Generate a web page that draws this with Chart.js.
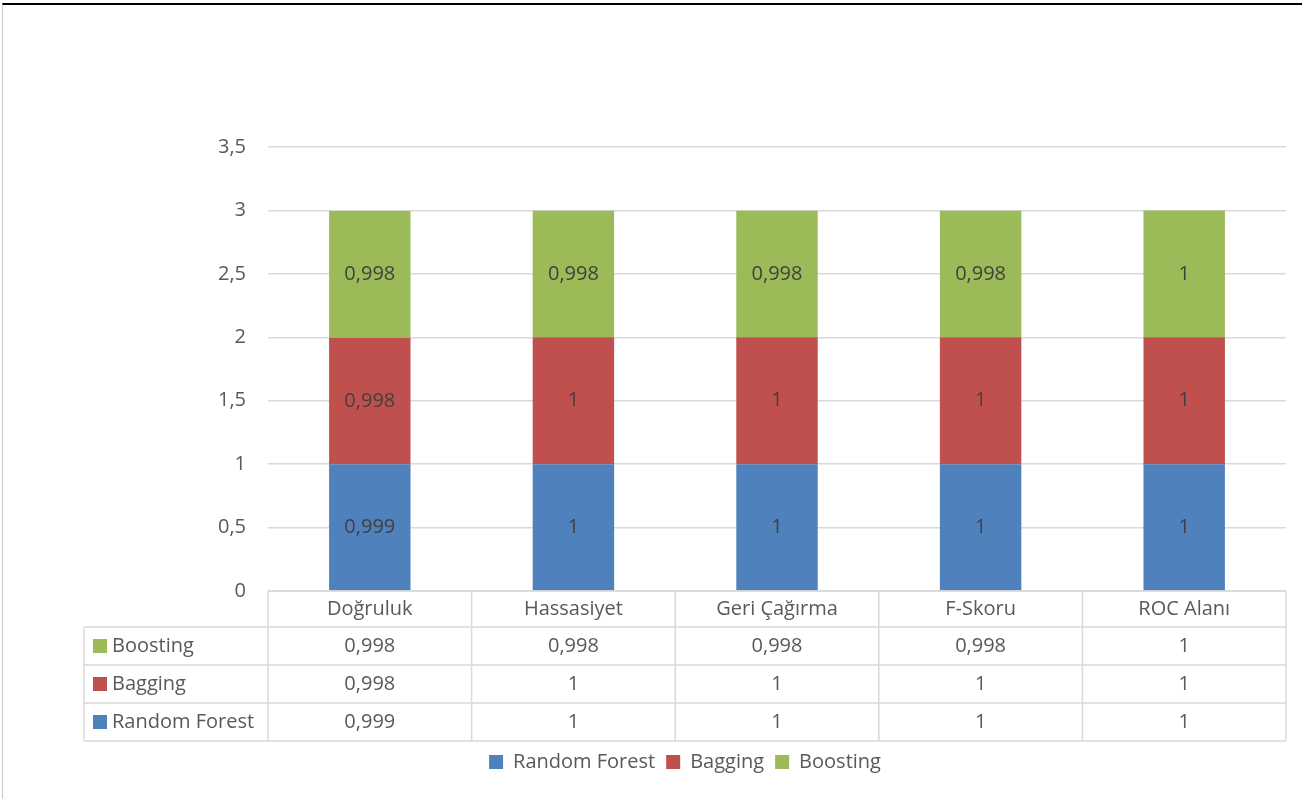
<!DOCTYPE html>
<html>
<head>
<meta charset="utf-8">
<script src="https://cdn.jsdelivr.net/npm/chart.js@4/dist/chart.umd.min.js"></script>
<style>
    body { margin: 0; background: #fff; }
    #wrap { position: relative; width: 1302px; height: 799px; }
    #frame { position: absolute; left: 2px; top: 3px; right: 0; bottom: 0;
             border-top: 2px solid #000; border-left: 1px solid #c8c8c8; pointer-events: none; }
</style>
</head>
<body>
<div id="wrap">
    <canvas id="chart" width="1302" height="799"></canvas>
    <div id="frame"></div>
</div>
<script>
const CATEGORIES = ['Doğruluk', 'Hassasiyet', 'Geri Çağırma', 'F-Skoru', 'ROC Alanı'];
const RANDOM_FOREST = [0.999, 1, 1, 1, 1];
const BAGGING = [0.998, 1, 1, 1, 1];
const BOOSTING = [0.998, 0.998, 0.998, 0.998, 1];
const Y_MAX = 3.5;
const Y_STEP = 0.5;

const FONT = '"Open Sans", Lato, sans-serif';
const FONT_SIZE = 20;
const TEXT = '#595959';
const GRID = '#d9d9d9';

const fmt = (v) => String(v).replace('.', ',');

// value labels inside the bars
const barLabels = {
    id: 'barLabels',
    afterDatasetsDraw(chart) {
        const ctx = chart.ctx;
        ctx.save();
        ctx.font = FONT_SIZE + 'px ' + FONT;
        ctx.fillStyle = '#404040';
        ctx.textAlign = 'center';
        ctx.textBaseline = 'middle';
        chart.data.datasets.forEach((ds, i) => {
            chart.getDatasetMeta(i).data.forEach((bar, j) => {
                const p = bar.getProps(['x', 'y', 'base'], true);
                ctx.fillText(fmt(ds.data[j]), p.x, (p.y + p.base) / 2);
            });
        });
        ctx.restore();
    }
};

// data table under the plot, aligned to the x scale
const dataTable = {
    id: 'dataTable',
    afterDraw(chart) {
        const ctx = chart.ctx;
        const xs = chart.scales.x;
        const area = chart.chartArea;
        const top = area.bottom;
        const rowH = [36, 38, 38, 38];
        const tableLeft = 84;
        const n = CATEGORIES.length;
        const step = (area.right - area.left) / n;
        const cols = [];
        for (let i = 0; i <= n; i++) cols.push(area.left + i * step);

        const rows = [top];
        rowH.forEach((h) => rows.push(rows[rows.length - 1] + h));

        ctx.save();
        ctx.strokeStyle = GRID;
        ctx.lineWidth = 1.5;
        ctx.beginPath();
        ctx.moveTo(area.left, rows[0]); ctx.lineTo(area.right, rows[0]);
        for (let r = 1; r < rows.length; r++) {
            ctx.moveTo(tableLeft, rows[r]); ctx.lineTo(area.right, rows[r]);
        }
        cols.forEach((x) => { ctx.moveTo(x, rows[0]); ctx.lineTo(x, rows[rows.length - 1]); });
        ctx.moveTo(tableLeft, rows[1]); ctx.lineTo(tableLeft, rows[rows.length - 1]);
        ctx.stroke();

        ctx.font = FONT_SIZE + 'px ' + FONT;
        ctx.fillStyle = TEXT;
        ctx.textAlign = 'center';
        ctx.textBaseline = 'middle';
        CATEGORIES.forEach((c, i) => {
            ctx.fillText(c, xs.getPixelForValue(i), (rows[0] + rows[1]) / 2);
        });

        const order = [...chart.data.datasets].reverse();
        order.forEach((ds, r) => {
            const cy = (rows[r + 1] + rows[r + 2]) / 2;
            ctx.fillStyle = ds.backgroundColor;
            ctx.fillRect(tableLeft + 9, cy - 7, 14, 14);
            ctx.fillStyle = TEXT;
            ctx.textAlign = 'left';
            ctx.fillText(ds.label, tableLeft + 28, cy);
            ctx.textAlign = 'center';
            ds.data.forEach((v, j) => ctx.fillText(fmt(v), xs.getPixelForValue(j), cy));
        });
        ctx.restore();
    }
};

new Chart(document.getElementById('chart'), {
    type: 'bar',
    data: {
        labels: CATEGORIES,
        datasets: [
            { label: 'Random Forest', data: RANDOM_FOREST, backgroundColor: '#4f81bd' },
            { label: 'Bagging', data: BAGGING, backgroundColor: '#c0504d' },
            { label: 'Boosting', data: BOOSTING, backgroundColor: '#9bbb59' }
        ]
    },
    options: {
        responsive: false,
        animation: false,
        layout: { padding: { left: 84, right: 16, top: 147, bottom: 17 } },
        datasets: { bar: { categoryPercentage: 1, barPercentage: 0.4 } },
        scales: {
            x: {
                stacked: true,
                grid: { display: false },
                border: { display: false },
                ticks: { display: false },
                afterFit: (s) => { s.height = 150; }
            },
            y: {
                stacked: true,
                min: 0,
                max: Y_MAX,
                ticks: {
                    stepSize: Y_STEP,
                    padding: 22,
                    color: TEXT,
                    font: { family: FONT, size: FONT_SIZE },
                    callback: (v) => fmt(v)
                },
                grid: { color: GRID, lineWidth: 1.5, drawTicks: false },
                border: { display: false },
                afterFit: (s) => { s.width = 184; }
            }
        },
        plugins: {
            legend: {
                position: 'bottom',
                labels: {
                    boxWidth: 14,
                    boxHeight: 14,
                    padding: 11,
                    color: TEXT,
                    font: { family: FONT, size: FONT_SIZE }
                }
            },
            tooltip: { enabled: false }
        }
    },
    plugins: [barLabels, dataTable]
});
</script>
</body>
</html>
